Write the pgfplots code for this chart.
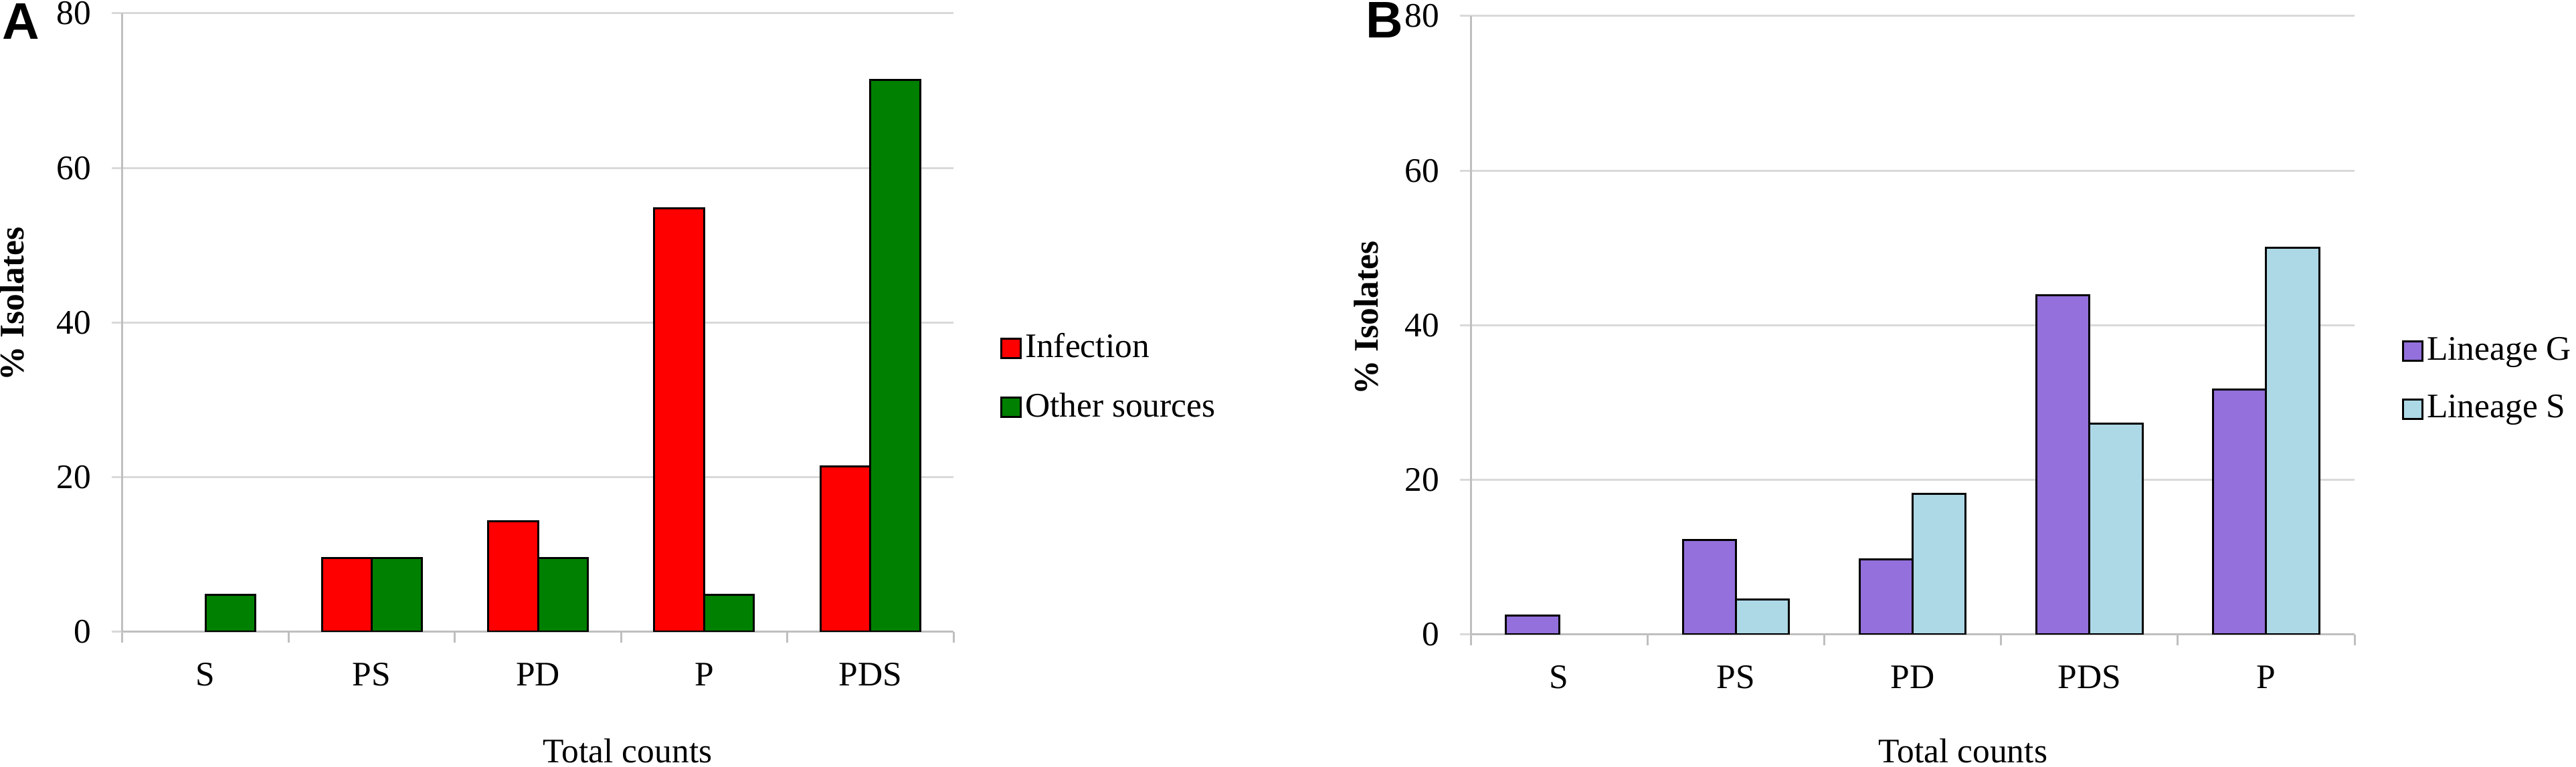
\documentclass[border=0pt]{standalone}
\usepackage{pgfplots}
\pgfplotsset{compat=1.18}
\usepackage{fontspec}
\setmainfont{Liberation Serif}
\newfontfamily\panelfont{Liberation Sans}
\definecolor{infred}{HTML}{FF0000}
\definecolor{othgreen}{HTML}{008000}
\definecolor{linG}{HTML}{9370DB}
\definecolor{linS}{HTML}{ADD8E6}
\definecolor{gridgray}{HTML}{D9D9D9}
\definecolor{axisgray}{HTML}{BFBFBF}
\pgfplotsset{
  panel/.style={
    scale only axis, height=185pt,
    ybar, bar width=0.3,
    ymin=0, ymax=80, ytick={0,20,...,80},
    yticklabels={0,20,40,60,80},
    xmin=-0.5, xmax=4.5,
    xtick={-0.5,0.5,...,4.5},
    axis x line*=bottom, axis y line*=left,
    axis line style={draw=axisgray, line width=0.6pt, -},
    ymajorgrids, grid style={draw=gridgray, line width=0.6pt},
    tick align=outside, major tick length=3.2pt,
    ytick style={draw=gridgray, line width=0.6pt},
    xtick style={draw=axisgray, line width=0.6pt},
    /pgf/number format/assume math mode=true,
    yticklabel style={xshift=-2.6pt, font=\rmfamily},
    ylabel={\bfseries\%\ Isolates},
    xlabel={Total counts},
    legend style={draw=none, fill=none, inner sep=0pt, row sep=7pt, nodes={inner sep=1pt}},
    legend cell align=left,
    legend image code/.code={\draw[##1, line width=0.6pt] (0pt,-2.9pt) rectangle (5.8pt,2.9pt);},
    every axis plot/.append style={draw=black, line width=0.6pt},
  }
}
\begin{document}
\fontsize{10.3}{12.4}\selectfont
\begin{tikzpicture}
\useasboundingbox (0,0) rectangle (770pt,229.4pt);
\begin{axis}[panel, width=248.4pt, at={(36.6pt,40.4pt)}, anchor=south west,
  xticklabels={S,PS,PD,P,PDS,},
  xticklabel style={xshift=24.84pt, yshift=-2.5pt},
  ylabel style={at={(axis description cs:-0.133,0.53)}, anchor=center},
  xlabel style={at={(axis description cs:0.608,-0.192)}, anchor=center},
  legend style={at={(axis description cs:1.0556,0.411)}, anchor=west}]
\addplot[fill=infred, bar shift=-0.15] coordinates {(1,9.52) (2,14.29) (3,54.76) (4,21.43)};
\addplot[fill=othgreen, bar shift=0.15] coordinates {(0,4.76) (1,9.52) (2,9.52) (3,4.76) (4,71.43)};
\legend{Infection,Other sources}
\end{axis}
\begin{axis}[panel, width=264.2pt, at={(439.6pt,39.6pt)}, anchor=south west,
  xticklabels={S,PS,PD,PDS,P,},
  xticklabel style={xshift=26.42pt, yshift=-2.5pt},
  ylabel style={at={(axis description cs:-0.118,0.512)}, anchor=center},
  xlabel style={at={(axis description cs:0.557,-0.188)}, anchor=center},
  legend style={at={(axis description cs:1.053,0.4116)}, anchor=west}]
\addplot[fill=linG, bar shift=-0.15] coordinates {(0,2.44) (1,12.2) (2,9.76) (3,43.9) (4,31.71)};
\addplot[fill=linS, bar shift=0.15] coordinates {(1,4.55) (2,18.18) (3,27.27) (4,50.0)};
\legend{Lineage G,Lineage S}
\end{axis}
\node[anchor=north west, inner sep=0pt, font=\fontsize{15.4}{16}\panelfont\bfseries] at (0.6pt,228.4pt) {A};
\node[anchor=north west, inner sep=0pt, font=\fontsize{15.4}{16}\panelfont\bfseries] at (408pt,228.8pt) {B};
\end{tikzpicture}
\end{document}
